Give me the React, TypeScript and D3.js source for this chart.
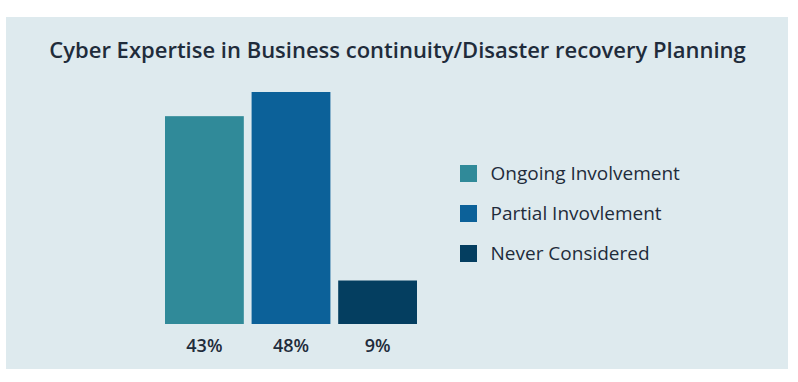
import React from "react";
import * as d3 from "d3";

const categories = ["Ongoing Involvement", "Partial Invovlement", "Never Considered"];
const values = [43, 48, 9];
const valueLabels = ["43%", "48%", "9%"];
const colors = ["#308A99", "#0C6199", "#043E60"];
const title = "Cyber Expertise in Business continuity/Disaster recovery Planning";

export default function App() {
  const W = 798, H = 382;
  const x = d3.scaleBand<string>().domain(categories).range([165, 417]).paddingInner(0.09).paddingOuter(0);
  const y = d3.scaleLinear().domain([0, 48]).range([324, 92]);
  const textColor = "#1F2C3B";
  return (
    <svg width={W} height={H} style={{ position: "absolute", left: 0, top: 0 }}>
      <rect x={0} y={0} width={W} height={H} fill="#ffffff" />
      <rect x={6} y={17} width={782} height={352} fill="#DEEAEE" />
      <text x={397.5} y={58} textAnchor="middle" fontFamily="'Open Sans', sans-serif" fontWeight={600} fontSize={22} fill={textColor}>{title}</text>
      {categories.map((c, i) => (
        <g key={c}>
          <rect x={x(c)} y={y(values[i])} width={x.bandwidth()} height={y(0) - y(values[i])} fill={colors[i]} />
          <text x={(x(c) as number) + x.bandwidth() / 2} y={352} textAnchor="middle" fontFamily="'Open Sans', sans-serif" fontWeight={600} fontSize={18} fill={textColor}>{valueLabels[i]}</text>
        </g>
      ))}
      {categories.map((c, i) => (
        <g key={"l" + c} transform={`translate(460, ${165 + i * 40})`}>
          <rect x={0} y={0} width={17} height={17} fill={colors[i]} />
          <text x={30.5} y={15} fontFamily="'Open Sans', sans-serif" fontWeight={400} fontSize={19} fill={textColor}>{c}</text>
        </g>
      ))}
    </svg>
  );
}
